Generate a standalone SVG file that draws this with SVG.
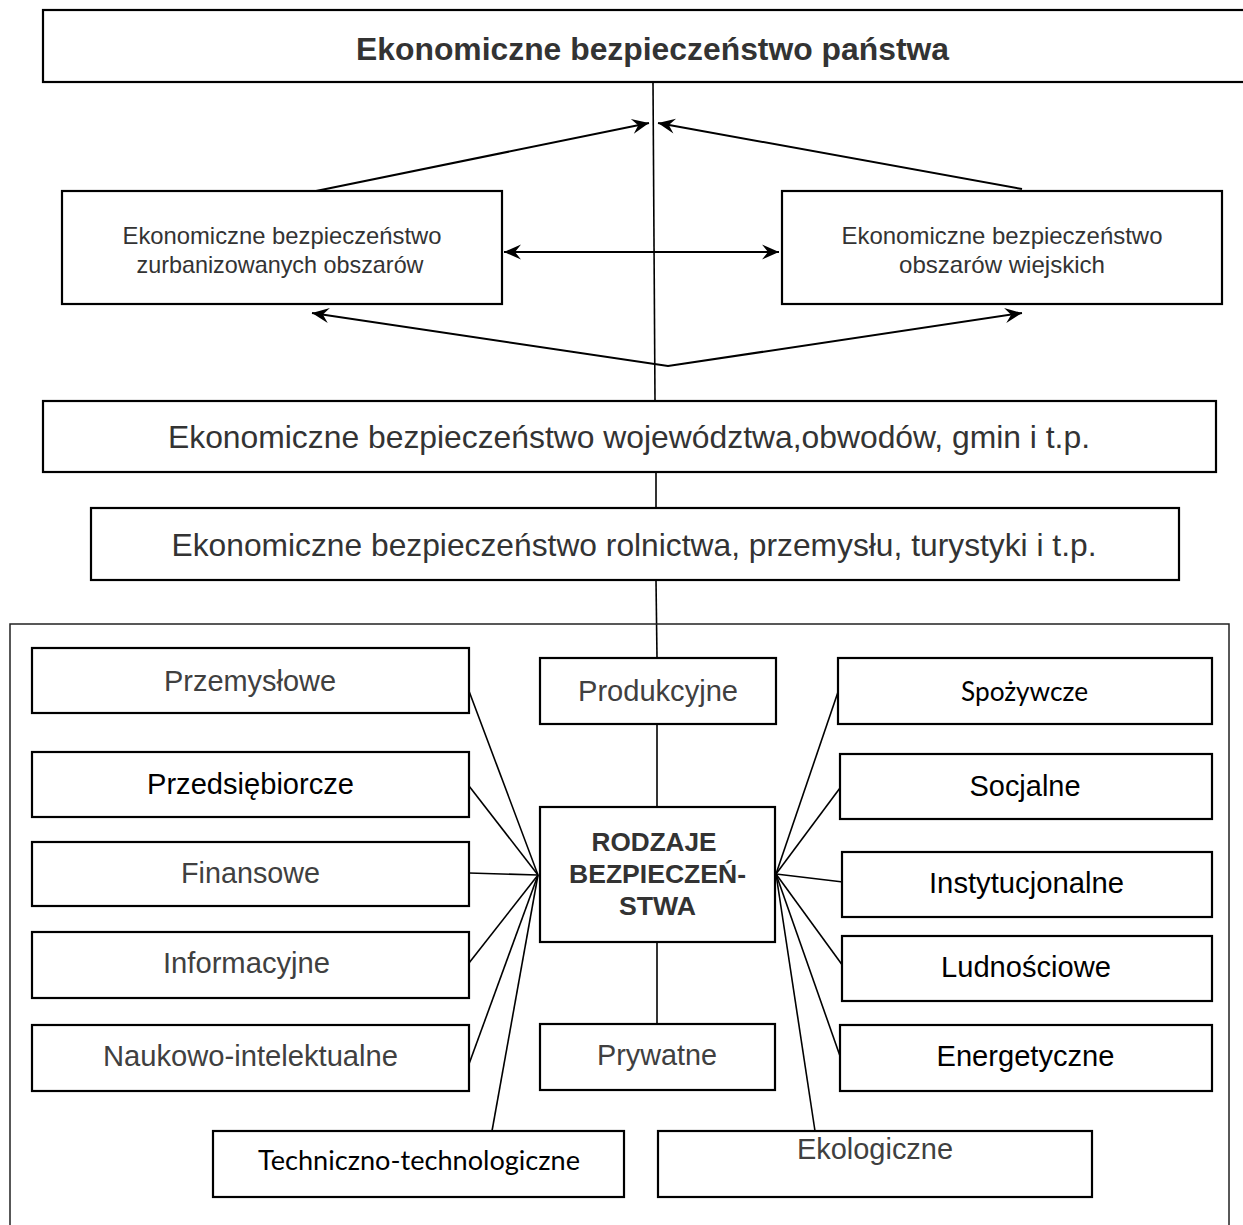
<svg xmlns="http://www.w3.org/2000/svg" width="1243" height="1225" viewBox="0 0 1243 1225">
<defs>
<style>
.box{fill:#fff;stroke:#000;stroke-width:2.2}
.outer{fill:none;stroke:#222;stroke-width:1.5}
.ln{fill:none;stroke:#000;stroke-width:1.6}
.arr{fill:none;stroke:#000;stroke-width:2}
.t{font-family:"Liberation Sans",Arial,sans-serif;fill:#333;text-anchor:middle}
.g{font-family:"Liberation Sans",Arial,sans-serif;fill:#404040;text-anchor:middle;font-size:29px}
.k{font-family:"Liberation Sans",Arial,sans-serif;fill:#000;text-anchor:middle;font-size:29px}
.c{font-family:Lato,"Open Sans",sans-serif;fill:#000;text-anchor:middle}
.b{font-weight:bold}
</style>
<marker id="ah" markerUnits="userSpaceOnUse" markerWidth="22" markerHeight="18" viewBox="-18 -9 20 18" refX="0" refY="0" orient="auto-start-reverse">
<path d="M0,0 L-17,-7.5 L-11,0 L-17,7.5 Z" fill="#000"/>
</marker>
</defs>
<rect width="1243" height="1225" fill="#fff"/>

<g id="connectors">
<polyline class="ln" points="653,82 655,401"/>
<polyline class="ln" points="656,472 656,508"/>
<polyline class="ln" points="656,580 657,658"/>
<line class="arr" x1="316" y1="191" x2="649" y2="123" marker-end="url(#ah)"/>
<line class="arr" x1="1022" y1="189" x2="658" y2="123" marker-end="url(#ah)"/>
<line class="arr" x1="504" y1="252" x2="779" y2="252" marker-start="url(#ah)" marker-end="url(#ah)"/>
<polyline class="arr" points="312,313 668,366 1022,313" marker-start="url(#ah)" marker-end="url(#ah)"/>
<line class="ln" x1="657" y1="724" x2="657" y2="808"/>
<line class="ln" x1="657" y1="941" x2="657" y2="1025"/>
<line class="ln" x1="538" y1="875" x2="469" y2="691"/>
<line class="ln" x1="538" y1="875" x2="469" y2="786"/>
<line class="ln" x1="538" y1="875" x2="469" y2="873"/>
<line class="ln" x1="538" y1="875" x2="469" y2="963"/>
<line class="ln" x1="538" y1="875" x2="469" y2="1064"/>
<line class="ln" x1="538" y1="875" x2="492" y2="1131"/>
<line class="ln" x1="776" y1="874" x2="838" y2="692"/>
<line class="ln" x1="776" y1="874" x2="840" y2="788"/>
<line class="ln" x1="776" y1="874" x2="843" y2="882"/>
<line class="ln" x1="776" y1="874" x2="843" y2="966"/>
<line class="ln" x1="776" y1="874" x2="840" y2="1056"/>
<line class="ln" x1="776" y1="874" x2="815" y2="1131"/>
</g>

<g id="panstwo">
<rect class="box" x="43" y="10" width="1230" height="72"/>
<text class="t b" x="652.5" y="60" font-size="32" textLength="593" lengthAdjust="spacingAndGlyphs">Ekonomiczne bezpieczeństwo państwa</text>
</g>

<g id="zurbanizowane">
<rect class="box" x="62" y="191" width="440" height="113"/>
<text class="t" x="282" y="244" font-size="24" textLength="319" lengthAdjust="spacingAndGlyphs">Ekonomiczne bezpieczeństwo</text>
<text class="t" x="280" y="273" font-size="24" textLength="287" lengthAdjust="spacingAndGlyphs">zurbanizowanych obszarów</text>
</g>

<g id="wiejskie">
<rect class="box" x="782" y="191" width="440" height="113"/>
<text class="t" x="1002" y="244" font-size="24" textLength="321" lengthAdjust="spacingAndGlyphs">Ekonomiczne bezpieczeństwo</text>
<text class="t" x="1002" y="273" font-size="24" textLength="206" lengthAdjust="spacingAndGlyphs">obszarów wiejskich</text>
</g>

<g id="wojewodztwa">
<rect class="box" x="43" y="401" width="1173" height="71"/>
<text class="t" x="629" y="448" font-size="32" textLength="922" lengthAdjust="spacingAndGlyphs">Ekonomiczne bezpieczeństwo województwa,obwodów, gmin i t.p.</text>
</g>

<g id="rolnictwa">
<rect class="box" x="91" y="508" width="1088" height="72"/>
<text class="t" x="634" y="556" font-size="32" textLength="925" lengthAdjust="spacingAndGlyphs">Ekonomiczne bezpieczeństwo rolnictwa, przemysłu, turystyki i t.p.</text>
</g>

<g id="rodzaje-ramka">
<rect class="outer" x="10" y="624" width="1219" height="640"/>
</g>

<g id="przemyslowe">
<rect class="box" x="32" y="648" width="437" height="65"/>
<text class="g" x="250" y="691" textLength="172" lengthAdjust="spacingAndGlyphs">Przemysłowe</text>
</g>
<g id="przedsiebiorcze">
<rect class="box" x="32" y="752" width="437" height="65"/>
<text class="k" x="250.5" y="794" textLength="207" lengthAdjust="spacingAndGlyphs">Przedsiębiorcze</text>
</g>
<g id="finansowe">
<rect class="box" x="32" y="842" width="437" height="64"/>
<text class="g" x="250.5" y="883" textLength="139" lengthAdjust="spacingAndGlyphs">Finansowe</text>
</g>
<g id="informacyjne">
<rect class="box" x="32" y="932" width="437" height="66"/>
<text class="g" x="246.5" y="973" textLength="167" lengthAdjust="spacingAndGlyphs">Informacyjne</text>
</g>
<g id="naukowo">
<rect class="box" x="32" y="1025" width="437" height="66"/>
<text class="g" x="250.5" y="1066" textLength="295" lengthAdjust="spacingAndGlyphs">Naukowo-intelektualne</text>
</g>
<g id="techniczno">
<rect class="box" x="213" y="1131" width="411" height="66"/>
<text class="c" x="419" y="1170" font-size="27" textLength="322" lengthAdjust="spacingAndGlyphs">Techniczno-technologiczne</text>
</g>

<g id="produkcyjne">
<rect class="box" x="540" y="658" width="236" height="66"/>
<text class="g" x="658" y="701" textLength="160" lengthAdjust="spacingAndGlyphs">Produkcyjne</text>
</g>
<g id="rodzaje">
<rect class="box" x="540" y="807" width="235" height="135"/>
<text class="t b" x="654" y="851" font-size="26" textLength="125" lengthAdjust="spacingAndGlyphs">RODZAJE</text>
<text class="t b" x="657.5" y="883" font-size="26" textLength="177" lengthAdjust="spacingAndGlyphs">BEZPIECZEŃ-</text>
<text class="t b" x="657.5" y="915" font-size="26" textLength="77" lengthAdjust="spacingAndGlyphs">STWA</text>
</g>
<g id="prywatne">
<rect class="box" x="540" y="1024" width="235" height="66"/>
<text class="g" x="657" y="1065" textLength="120" lengthAdjust="spacingAndGlyphs">Prywatne</text>
</g>

<g id="spozywcze">
<rect class="box" x="838" y="658" width="374" height="66"/>
<text class="c" x="1024.5" y="701" font-size="26" textLength="127" lengthAdjust="spacingAndGlyphs">Spożywcze</text>
</g>
<g id="socjalne">
<rect class="box" x="840" y="754" width="372" height="65"/>
<text class="k" x="1025" y="796" textLength="111" lengthAdjust="spacingAndGlyphs">Socjalne</text>
</g>
<g id="instytucjonalne">
<rect class="box" x="842" y="852" width="370" height="65"/>
<text class="k" x="1026.5" y="893" textLength="195" lengthAdjust="spacingAndGlyphs">Instytucjonalne</text>
</g>
<g id="ludnosciowe">
<rect class="box" x="842" y="936" width="370" height="65"/>
<text class="k" x="1026" y="977" textLength="170" lengthAdjust="spacingAndGlyphs">Ludnościowe</text>
</g>
<g id="energetyczne">
<rect class="box" x="840" y="1025" width="372" height="66"/>
<text class="k" x="1025.5" y="1066" textLength="178" lengthAdjust="spacingAndGlyphs">Energetyczne</text>
</g>
<g id="ekologiczne">
<rect class="box" x="658" y="1131" width="434" height="66"/>
<text class="g" x="875" y="1159" textLength="156" lengthAdjust="spacingAndGlyphs">Ekologiczne</text>
</g>
</svg>
